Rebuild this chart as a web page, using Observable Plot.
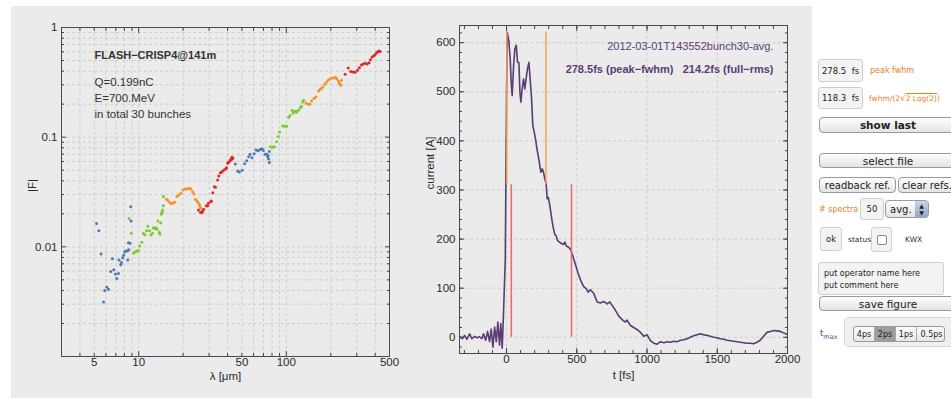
<!DOCTYPE html>
<html>
<head>
<meta charset="utf-8">
<script src="https://cdn.jsdelivr.net/npm/d3@7"></script>
<script src="https://cdn.jsdelivr.net/npm/@observablehq/plot@0.6"></script>
<style>
  html, body { margin: 0; padding: 0; background: #fff; }
  body { width: 951px; height: 398px; position: relative; overflow: hidden; font-family: "Liberation Sans", Arial, sans-serif; }
  #panel { position: absolute; left: 11px; top: 6px; width: 801px; height: 392px; background: #ebebeb; }
  .fig { position: absolute; top: 6px; }
  .ctl { position: absolute; font-family: "DejaVu Sans", sans-serif; color: #222; box-sizing: border-box; }
  .field { border: 1px solid #cfcfcf; border-radius: 3px; background: #f3f3f3; font-size: 8.5px; display: flex; align-items: center; justify-content: center; }
  .btn { border: 1px solid #9a9a9a; border-radius: 4px; background: linear-gradient(#fdfdfd, #e4e4e4); font-size: 10.5px; display: flex; align-items: center; justify-content: center; white-space: nowrap; }
  .lbl { font-size: 8px; color: #f07a22; white-space: nowrap; }
  .small { font-size: 7.5px; color: #333; }
  .seg { position: absolute; top: 0; height: 100%; display: flex; align-items: center; justify-content: center; font-size: 8px; border-right: 1px solid #aaa; box-sizing: border-box; }
</style>
</head>
<body>
<div id="panel"></div>
<div id="fig1" class="fig" style="left:11px"></div>
<div id="fig2" class="fig" style="left:410px"></div>

<!-- side controls -->
<div class="ctl field" style="left:818px;top:59px;width:45px;height:23px">278.5&nbsp; fs</div>
<div class="ctl lbl" style="left:870px;top:66px">peak fwhm</div>
<div class="ctl field" style="left:818px;top:87px;width:45px;height:22px">118.3&nbsp; fs</div>
<div class="ctl lbl" style="left:869px;top:93px;font-size:7.5px">fwhm/(2<span style="font-size:9px">√</span><span style="border-top:1px solid #f07a22">2 Log(2)</span>)</div>
<div class="ctl btn" style="left:819px;top:117px;width:138px;height:16px;font-weight:bold">show last</div>
<div class="ctl btn" style="left:819px;top:153px;width:138px;height:15px">select file</div>
<div class="ctl btn" style="left:819px;top:177px;width:77px;height:16px;font-size:10px">readback ref.</div>
<div class="ctl btn" style="left:898px;top:177px;width:58px;height:16px;font-size:10px;justify-content:flex-start;padding-left:3px">clear refs.</div>
<div class="ctl lbl" style="left:819px;top:205px;font-size:8px"># spectra</div>
<div class="ctl field" style="left:860px;top:198px;width:24px;height:22px;font-size:8.5px">50</div>
<div class="ctl btn" style="left:885px;top:200px;width:44px;height:18px;justify-content:flex-start;padding-left:4px;font-size:10px">avg.
  <span style="position:absolute;right:0;top:0;width:13px;height:16px;border-radius:0 3px 3px 0;background:linear-gradient(#c9d5e6,#8ea4c4);color:#223;font-size:6px;line-height:7px;text-align:center;padding-top:1px">▲<br>▼</span></div>
<div class="ctl field" style="left:820px;top:227px;width:22px;height:24px;font-size:8.5px">ok</div>
<div class="ctl small" style="left:848px;top:235px">status</div>
<div class="ctl field" style="left:871px;top:227px;width:21px;height:25px"><span style="display:block;width:8px;height:8px;border:1px solid #888;border-radius:2px;background:#fff"></span></div>
<div class="ctl small" style="left:905px;top:235px">KWX</div>
<div class="ctl field" style="left:818px;top:262px;width:126px;height:33px;display:block;padding:5px 0 0 5px;font-size:8px;line-height:12px">put operator name here<br>put comment here</div>
<div class="ctl btn" style="left:819px;top:296px;width:138px;height:15px">save figure</div>
<div class="ctl" style="left:820px;top:328px;font-size:8.5px;color:#6a4a8a">t<sub style="font-size:6.5px">max</sub></div>
<div class="ctl" style="left:844px;top:317px;width:115px;height:30px;border:1px solid #d8d8d8;border-radius:4px;background:#efefef"></div>
<div class="ctl" style="left:853px;top:326px;width:92px;height:16px;border:1px solid #999;border-radius:3px;background:linear-gradient(#fdfdfd,#e6e6e6);overflow:hidden">
  <div class="seg" style="left:0;width:21px">4ps</div>
  <div class="seg" style="left:21px;width:21px;background:#9d9d9d">2ps</div>
  <div class="seg" style="left:42px;width:21px">1ps</div>
  <div class="seg" style="left:63px;width:29px;border-right:none">0.5ps</div>
</div>

<script>
// Form factor |F| versus wavelength, one spectrometer band per group
const lambdaBlueA = [5.18, 5.37, 5.56, 5.78, 5.89, 6.08, 6.24, 6.47, 6.64, 6.78, 6.96, 7.10, 7.29, 7.36, 7.56, 7.64, 7.79, 7.92, 8.04, 8.21, 8.39, 8.56, 8.43, 8.52, 8.73, 8.83, 8.87];
const formBlueA   = [0.0163, 0.0140, 0.0086, 0.00314, 0.0040, 0.0043, 0.0041, 0.00596, 0.00778, 0.00618, 0.00565, 0.00515, 0.00572, 0.00757, 0.00686, 0.0072, 0.00794, 0.0084, 0.00895, 0.00914, 0.0092, 0.0094, 0.0076, 0.0109, 0.0108, 0.0232, 0.0172];

const lambdaGreenA = [8.60, 8.93, 9.25, 9.50, 9.74, 9.95, 10.16, 10.5, 10.76, 11.03, 11.32, 11.55, 11.86, 12.11, 12.38, 12.57, 12.82, 13.09, 13.29, 13.49, 13.80, 13.93, 14.08, 14.22, 14.37, 14.45, 14.52, 14.69, 14.69];
const formGreenA   = [0.0181, 0.0133, 0.00877, 0.0090, 0.00914, 0.0092, 0.0102, 0.0110, 0.0132, 0.0129, 0.0140, 0.0154, 0.0140, 0.0128, 0.0133, 0.0149, 0.0147, 0.0149, 0.0145, 0.0172, 0.0136, 0.0131, 0.0166, 0.0198, 0.0208, 0.0204, 0.0217, 0.0237, 0.0287];

const lambdaOrangeA = [15.4, 15.78, 16.27, 16.63, 17.06, 17.5, 18.15, 18.72, 19.3, 19.92, 20.68, 21.33, 22.01, 22.55, 23.17, 23.65, 24.17, 24.66, 25.17, 25.7, 25.95, 26.24];
const formOrangeA   = [0.0271, 0.0264, 0.0253, 0.0248, 0.0251, 0.0255, 0.0287, 0.0297, 0.0308, 0.0330, 0.0337, 0.0339, 0.0342, 0.0337, 0.0318, 0.0303, 0.0271, 0.0264, 0.0255, 0.0246, 0.0236, 0.0226];

const lambdaRedA = [25.4, 26.2, 26.8, 27.2, 27.5, 28.7, 29.3, 29.7, 30.7, 31.1, 31.8, 32.6, 33.1, 34.3, 34.9, 35.8, 36.2, 37.1, 38.1, 39.1, 39.3, 40.1, 40.4, 41.2, 42.0, 42.3, 42.7, 43.4, 43.0];
const formRedA   = [0.0217, 0.0207, 0.0205, 0.0212, 0.0220, 0.0237, 0.0236, 0.0250, 0.0258, 0.0262, 0.0312, 0.0353, 0.0349, 0.0406, 0.0442, 0.0474, 0.0477, 0.0491, 0.0505, 0.0519, 0.0526, 0.0577, 0.0589, 0.0600, 0.0627, 0.0620, 0.0648, 0.0640, 0.0655];

const lambdaBlueB = [45.2, 46.7, 48.1, 50.2, 52.2, 53.9, 55.6, 56.8, 58.6, 60.5, 62.4, 64.4, 66.4, 68.5, 69.9, 71.8, 73.6, 74.8, 75.2, 75.9, 76.7, 76.7];
const formBlueB   = [0.0568, 0.0491, 0.0481, 0.0498, 0.0572, 0.0609, 0.0662, 0.0700, 0.0648, 0.0705, 0.0762, 0.0751, 0.0773, 0.0783, 0.0757, 0.0700, 0.0697, 0.0662, 0.0682, 0.0631, 0.0589, 0.0741];

const lambdaGreenB = [77.9, 80.8, 83.0, 86.0, 88.3, 90.1, 94.4, 98.0, 100.5, 103.6, 105.9, 109.3, 111.4, 113.2, 116.3, 117.4, 121.1, 124.3, 126.8, 128.8, 130.9];
const formGreenB   = [0.0816, 0.0811, 0.0816, 0.0906, 0.1015, 0.1117, 0.1267, 0.1259, 0.1259, 0.151, 0.158, 0.176, 0.166, 0.171, 0.172, 0.169, 0.176, 0.185, 0.191, 0.2094, 0.217];

const lambdaOrangeB = [135.9, 140.8, 144.5, 148.3, 153.8, 158.6, 165.3, 168.9, 172.4, 177.0, 182.6, 187.3, 192.3, 197.4, 203.7, 210.0, 215.4, 220.2, 224.6, 228.2, 231.8, 234.2, 236.4];
const formOrangeB   = [0.205, 0.1995, 0.1995, 0.2138, 0.2249, 0.2324, 0.2636, 0.2715, 0.2773, 0.2866, 0.3033, 0.3183, 0.3318, 0.3388, 0.3459, 0.3459, 0.3511, 0.3417, 0.325, 0.3118, 0.303, 0.297, 0.330];

const lambdaRedB = [250.3, 262.4, 273.5, 283.6, 292.4, 303.3, 312.8, 322.7, 331.2, 342.0, 352.6, 363.8, 371.3, 381.2, 391.5, 399.2, 407.5, 416.6, 424.9, 431.8];
const formRedB   = [0.374, 0.4266, 0.398, 0.392, 0.390, 0.4066, 0.430, 0.454, 0.464, 0.471, 0.464, 0.478, 0.508, 0.537, 0.553, 0.565, 0.584, 0.601, 0.609, 0.605];

const bandColors = {blue: "#4c79b8", green: "#7ccb2c", orange: "#f39426", red: "#db2a2c"};

// Axis ticks for the log-log panel
const lambdaTickLabels = [5, 10, 50, 100, 500];
const lambdaMinor = [4, 5, 6, 7, 8, 9, 20, 30, 40, 50, 60, 70, 80, 90, 200, 300, 400];
const lambdaMajor = [10, 100];
const formTickLabels = [0.01, 0.1, 1];
const formMinor = [0.002, 0.003, 0.004, 0.005, 0.006, 0.007, 0.008, 0.009, 0.02, 0.03, 0.04, 0.05, 0.06, 0.07, 0.08, 0.09, 0.2, 0.3, 0.4, 0.5, 0.6, 0.7, 0.8, 0.9];
const formMajor = [0.01, 0.1];
const beamInfo = ["Q=0.199nC", "E=700.MeV", "in total 30 bunches"];

// Reconstructed current profile, averaged over the bunch train
const timeFs = [-334, -315, -299, -282, -263, -247, -228, -211, -192, -176, -164, -149, -135, -121, -109, -97, -85, -73, -62, -50, -41, -31, -23, -16, -9, -5, 0, 5, 16, 26, 33, 40, 50, 59, 69, 78, 88, 95, 102, 111, 121, 130, 140, 149, 159, 168, 178, 187, 197, 206, 216, 225, 235, 244, 254, 263, 272, 282, 289, 297, 306, 315, 325, 334, 344, 353, 363, 377, 391, 405, 415, 425, 439, 453, 467, 481, 496, 510, 524, 538, 553, 567, 581, 597, 621, 645, 668, 692, 716, 735, 752, 775, 799, 823, 846, 858, 882, 905, 929, 953, 977, 1001, 1024, 1048, 1072, 1095, 1120, 1143, 1166, 1190, 1213, 1237, 1261, 1285, 1308, 1332, 1356, 1380, 1403, 1427, 1450, 1474, 1498, 1522, 1546, 1570, 1593, 1617, 1640, 1664, 1688, 1712, 1735, 1759, 1783, 1806, 1830, 1854, 1878, 1903, 1925, 1949, 1972, 1996];
const currentA = [2, -3, 4, -4, 7, -3, 2, -1, 1, -3, 7, -6, 12, -9, 17, -20, 21, -9, 31, -16, 28, -22, 38, 99, 160, 309, 499, 621, 604, 567, 519, 492, 553, 587, 595, 560, 559, 499, 479, 506, 526, 506, 529, 547, 560, 526, 486, 431, 418, 404, 384, 370, 353, 336, 343, 336, 323, 313, 282, 285, 272, 255, 235, 221, 209, 207, 197, 194, 191, 189, 194, 186, 184, 180, 170, 157, 143, 130, 119, 109, 102, 99, 92, 97, 89, 72, 70, 73, 68, 72, 65, 55, 43, 36, 31, 35, 24, 20, 16, 10, 2, 5, -7, -12, -14, -9, -11, -9, -10, -8, -9, -6, -5, -3, 0, 3, 5, 7, 5, 4, 2, 0, -1, -3, -4, -6, -7, -8, -9, -10, -11, -12, -12, -13, -10, -6, 2, 10, 12, 14, 13, 12, 9, 6];

const peakCurrent = 621;
const peakFwhm = 278.5;     // fs
const fwhmStart = 2;        // fs, rising half-maximum crossing
const fullRms = 214.2;      // fs
const rmsCentre = 248;      // fs
const timeTickLabels = [0, 500, 1000, 1500, 2000];
const timeGrid = [0, 500, 1000, 1500];
const timeMinor = d3.range(-300, 2000, 100);
const currentTicks = [0, 100, 200, 300, 400, 500, 600];
const currentMinor = d3.range(-20, 640, 20);

const font = "'Liberation Sans', Arial, sans-serif";
const ink = "#2a2a2a";
const gridStyle = {stroke: "#c6c6bf", strokeOpacity: 1, strokeDasharray: "3,2.5", strokeWidth: 0.8};
const purple = "#5b3b75";

function band(lams, forms, color) {
  return Plot.dot(lams.map((l, i) => ({l, f: forms[i]})), {x: "l", y: "f", r: 1.5, fill: color, stroke: "none"});
}

// short tick marks pointing into the frame on all four sides
function insideTicks(kind, values, size) {
  const opts = {tickSize: -size, fill: "none", label: null, stroke: "#444"};
  if (kind === "x") return [Plot.axisX(values, {...opts, anchor: "bottom"}), Plot.axisX(values, {...opts, anchor: "top"})];
  return [Plot.axisY(values, {...opts, anchor: "left"}), Plot.axisY(values, {...opts, anchor: "right"})];
}

// tick labels as plain text marks positioned by the scales
function xLabels(values) {
  return Plot.text(values, {x: d => d, frameAnchor: "bottom", dy: 9, text: d => String(d), fontSize: 11.5, fill: ink});
}
function yLabels(values) {
  return Plot.text(values, {y: d => d, frameAnchor: "left", dx: -4, textAnchor: "end", text: d => String(d), fontSize: 11.5, fill: ink});
}

const fig1 = Plot.plot({
  width: 390, height: 392,
  marginLeft: 50, marginRight: 12, marginTop: 21, marginBottom: 42,
  style: {background: "transparent", fontFamily: font, fontSize: "11px", color: ink},
  x: {type: "log", domain: [3, 500]},
  y: {type: "log", domain: [0.001, 1]},
  marks: [
    Plot.gridX(lambdaMinor.concat(lambdaMajor), gridStyle),
    Plot.gridY(formMinor.concat(formMajor), gridStyle),
    ...insideTicks("x", lambdaMinor, 3),
    ...insideTicks("x", lambdaMajor, 5),
    ...insideTicks("y", formMinor, 3),
    ...insideTicks("y", formMajor, 5),
    xLabels(lambdaTickLabels),
    yLabels(formTickLabels),
    band(lambdaBlueA, formBlueA, bandColors.blue),
    band(lambdaGreenA, formGreenA, bandColors.green),
    band(lambdaOrangeA, formOrangeA, bandColors.orange),
    band(lambdaRedA, formRedA, bandColors.red),
    band(lambdaBlueB, formBlueB, bandColors.blue),
    band(lambdaGreenB, formGreenB, bandColors.green),
    band(lambdaOrangeB, formOrangeB, bandColors.orange),
    band(lambdaRedB, formRedB, bandColors.red),
    Plot.text(["FLASH\u2212CRISP4@141m"], {frameAnchor: "top-left", dx: 33, dy: 24, textAnchor: "start", fontWeight: "bold", fontSize: 11, fill: "#333"}),
    ...beamInfo.map((line, i) => Plot.text([line], {frameAnchor: "top-left", dx: 33, dy: 50 + 16 * i, textAnchor: "start", fontSize: 11.5, fill: "#333"})),
    Plot.text(["\u03bb [\u03bcm]"], {frameAnchor: "bottom", dy: 23, fontSize: 11.5, fill: ink}),
    Plot.text(["|F|"], {frameAnchor: "left", dx: -29, rotate: -90, fontSize: 11.5, fill: ink}),
    Plot.frame({stroke: "#4a4a4a", strokeWidth: 1})
  ]
});
document.getElementById("fig1").append(fig1);

const profile = timeFs.map((t, i) => ({t, a: currentA[i]}));
const halfMax = peakCurrent / 2;

const fig2 = Plot.plot({
  width: 400, height: 392,
  marginLeft: 49, marginRight: 23, marginTop: 19, marginBottom: 45,
  style: {background: "transparent", fontFamily: font, fontSize: "11px", color: ink},
  x: {domain: [-335, 2000]},
  y: {domain: [-33, 635]},
  marks: [
    Plot.gridX(timeGrid, gridStyle),
    Plot.gridY(currentTicks, gridStyle),
    ...insideTicks("x", timeMinor, 3),
    ...insideTicks("x", timeGrid, 5),
    ...insideTicks("y", currentMinor, 3),
    ...insideTicks("y", currentTicks, 5),
    xLabels(timeTickLabels),
    yLabels(currentTicks),
    Plot.line(profile, {x: "t", y: "a", stroke: purple, strokeWidth: 1.6}),
    Plot.ruleX([fwhmStart, fwhmStart + peakFwhm], {y1: halfMax, y2: peakCurrent, stroke: "#f5a048", strokeWidth: 1.4}),
    Plot.ruleX([rmsCentre - fullRms, rmsCentre + fullRms], {y1: 0, y2: halfMax, stroke: "#f06a66", strokeWidth: 1.6}),
    Plot.text(["2012-03-01T143552bunch30-avg."], {frameAnchor: "top-right", dx: -14, dy: 17, textAnchor: "end", fill: purple, fontSize: 11}),
    Plot.text([`${peakFwhm}fs (peak\u2212fwhm)   ${fullRms}fs (full\u2212rms)`], {frameAnchor: "top-right", dx: -14, dy: 40, textAnchor: "end", fill: purple, fontWeight: "bold", fontSize: 11, style: "white-space:pre"}),
    Plot.text(["t [fs]"], {frameAnchor: "bottom", dy: 25, fontSize: 11.5, fill: ink}),
    Plot.text(["current [A]"], {frameAnchor: "left", dx: -29, rotate: -90, fontSize: 11.5, fill: ink}),
    Plot.frame({stroke: "#4a4a4a", strokeWidth: 1})
  ]
});
document.getElementById("fig2").append(fig2);
</script>
</body>
</html>
